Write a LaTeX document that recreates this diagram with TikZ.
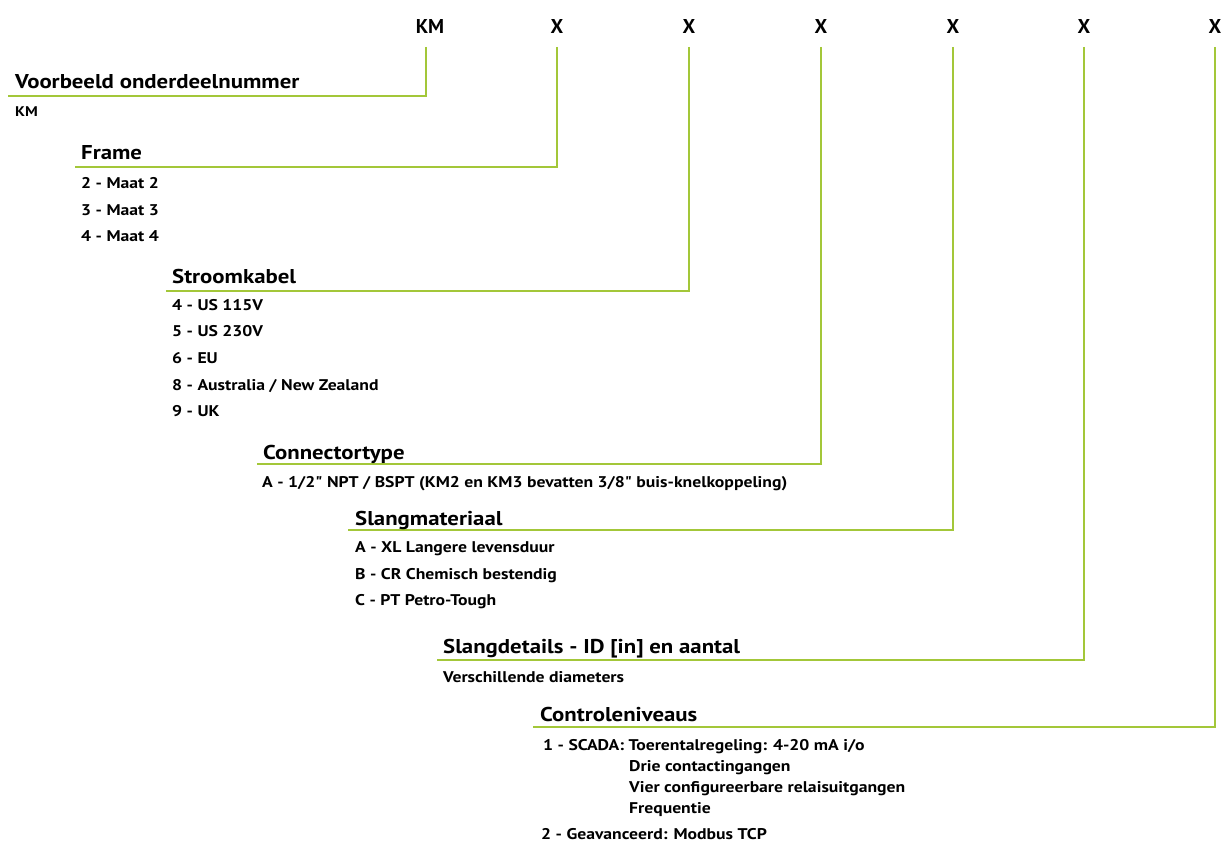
\documentclass[tikz,border=0pt]{standalone}
\usepackage{fontspec}
\setmainfont{PT Sans}
\newfontfamily\widefont[FakeStretch=1.14]{PT Sans}
\definecolor{lime}{RGB}{163,199,57}
\begin{document}
\begin{tikzpicture}[x=1pt,y=-1pt,
  conn/.style={draw=lime,line width=2.5pt},
  top/.style={font=\bfseries\fontsize{20}{20}\selectfont,anchor=base,inner sep=0pt},
  ttl/.style={font=\widefont\bfseries\fontsize{20}{20}\selectfont,anchor=base west,inner sep=0pt},
  itm/.style={font=\widefont\bfseries\fontsize{15.5}{15.5}\selectfont,anchor=base west,inner sep=0pt},
  sml/.style={font=\widefont\bfseries\fontsize{14}{14}\selectfont,anchor=base west,inner sep=0pt}]
\useasboundingbox (0,0) rectangle (1227,842);
% top labels
\node[top] (k0) at (430,34) {KM};
\node[top] (k1) at (557,34) {X};
\node[top] (k2) at (689,34) {X};
\node[top] (k3) at (821,34) {X};
\node[top] (k4) at (953,34) {X};
\node[top] (k5) at (1084,34) {X};
\node[top] (k6) at (1215,34) {X};
% line start/end coordinates
\coordinate (t0) at (426,47);  \coordinate (e0) at (8,96);
\coordinate (t1) at (557,47);  \coordinate (e1) at (75,167);
\coordinate (t2) at (689,47);  \coordinate (e2) at (166,291);
\coordinate (t3) at (821,47);  \coordinate (e3) at (257,464);
\coordinate (t4) at (953,47);  \coordinate (e4) at (348,530);
\coordinate (t5) at (1084,47); \coordinate (e5) at (437,660);
\coordinate (t6) at (1215,47); \coordinate (e6) at (533,727);
\foreach \i in {0,...,6}{\draw[conn] (t\i) |- (e\i);}
% section 0
\node[ttl] (h0) at (15,89) {Voorbeeld onderdeelnummer};
\node[sml] (a0) at (15,117) {KM};
% section 1
\node[ttl] (h1) at (81,160) {Frame};
\node[itm] (a1) at (81,189) {2 - Maat 2};
\node[itm] (b1) at (81,216) {3 - Maat 3};
\node[itm] (c1) at (81,242) {4 - Maat 4};
% section 2
\node[ttl] (h2) at (172,284) {Stroomkabel};
\node[itm] (a2) at (172,311) {4 - US 115V};
\node[itm] (b2) at (172,337) {5 - US 230V};
\node[itm] (c2) at (172,364) {6 - EU};
\node[itm] (d2) at (172,391) {8 - Australia / New Zealand};
\node[itm] (f2) at (172,417) {9 - UK};
% section 3
\node[ttl] (h3) at (263,459) {Connectortype};
\node[itm] (a3) at (262,487) {A - 1/2" NPT / BSPT (KM2 en KM3 bevatten 3/8" buis-knelkoppeling)};
% section 4
\node[ttl] (h4) at (355,525) {Slangmateriaal};
\node[itm] (a4) at (355,552) {A - XL Langere levensduur};
\node[itm] (b4) at (355,579) {B - CR Chemisch bestendig};
\node[itm] (c4) at (355,605) {C - PT Petro-Tough};
% section 5
\node[ttl] (h5) at (443,653) {Slangdetails - ID [in] en aantal};
\node[itm] (a5) at (443,682) {Verschillende diameters};
% section 6
\node[ttl] (h6) at (540,721) {Controleniveaus};
\node[itm] (a6) at (543,750) {1 - SCADA: Toerentalregeling: 4-20 mA i/o};
\node[itm] (b6) at (629,771) {Drie contactingangen};
\node[itm] (c6) at (629,792) {Vier configureerbare relaisuitgangen};
\node[itm] (d6) at (629,813) {Frequentie};
\node[itm] (f6) at (541,839) {2 - Geavanceerd: Modbus TCP};
\end{tikzpicture}
\end{document}
